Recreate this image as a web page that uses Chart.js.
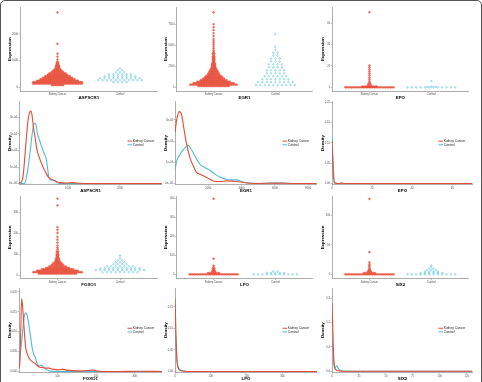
<!DOCTYPE html>
<html>
<head>
<meta charset="utf-8">
<script src="https://cdn.jsdelivr.net/npm/chart.js@4.4.0/dist/chart.umd.min.js"></script>
<style>
    body { margin: 0; background: #fff; }
    #moldura { position: absolute; left: 0; top: 0; width: 480px; height: 386px; border: 1px solid #555; border-radius: 5px; }
    canvas { position: absolute; }
</style>
</head>
<body>
<div id="moldura"></div>
<script>
const categorias = ['Kidney Cancer', 'Control'];
const cores = ['#E64B35', '#4DBBD5'];

// swarm levels: [expression, number of points on that level]
const aspscr1Kidney = [[74,8],[130,31],[185,31],[240,26],[296,22],[352,19],[407,16],[463,13],[518,11],[574,8],[629,6],[685,4],[740,3],[796,3],[851,2],[907,2],[962,1],[1036,1],[1147,1],[1258,1],[1628,1],[2812,1]];
const aspscr1Control = [[185,4],[259,11],[333,10],[407,8],[481,6],[555,3],[629,2],[703,1]];
const egr1Kidney = [[153,20],[329,30],[505,26],[681,21],[857,17],[1033,14],[1209,12],[1385,10],[1561,8],[1738,7],[1914,6],[2090,5],[2266,4],[2442,3],[2618,3],[2794,3],[2970,2],[3146,2],[3322,2],[3498,2],[3675,2],[3851,1],[4027,2],[4203,1],[4379,1],[4614,1],[4849,1],[5083,1],[5318,1],[5553,1],[5788,1],[6140,1],[6492,1],[6845,1],[7197,1],[7549,1],[8957,1]];
const egr1Control = [[270,10],[622,9],[974,7],[1327,6],[1679,5],[2031,5],[2383,4],[2735,4],[3088,3],[3440,3],[3792,2],[4144,2],[4496,1],[4849,1],[6375,1]];
const epoKidney = [[0,31],[0.7,10],[2.1,3],[3.9,2],[5.8,1],[7.6,1],[9.4,1],[11.3,1],[13.1,1],[14.9,1],[16.8,1],[18.6,1],[20.4,1],[70,1]];
const epoControl = [[0,12],[0.6,3],[5.8,1]];
const foxo1Kidney = [[7,24],[14,31],[21,26],[28,20],[35,15],[42,11],[50,8],[57,6],[64,4],[71,3],[78,3],[85,2],[92,2],[99,2],[106,1],[113,2],[123,1],[132,1],[142,1],[156,1],[170,1],[184,1],[203,1],[217,1],[231,1],[335,1],[368,1]];
const foxo1Control = [[14,9],[24,12],[33,10],[42,7],[52,4],[61,3],[71,2],[80,1],[94,1]];
const lpoKidney = [[0,31],[7,8],[15,3],[22,2],[30,2],[38,1],[46,1],[83,1],[399,1]];
const lpoControl = [[0,11],[7,5],[15,2]];
const six2Kidney = [[0,31],[2.2,8],[4.7,3],[7.2,2],[9.7,1],[12.2,1],[14.7,1],[17.2,1],[20.5,1],[37.7,1],[128,1]];
const six2Control = [[0,12],[2.2,6],[4.7,4],[7.2,3],[9.7,2],[12.2,1],[14.7,1]];

// density curves: [expression, density in units of the y tick step]
const aspscr1DensKidney = [[45,0],[77,0.06],[109,0.12],[141,0.56],[173,1.75],[205,2.95],[237,3.95],[269,4.35],[288,4.39],[308,4.15],[333,3.45],[365,2.85],[397,2.15],[429,1.75],[462,1.46],[494,1.2],[526,0.96],[558,0.76],[590,0.56],[622,0.4],[654,0.32],[718,0.22],[782,0.12],[846,0.06],[974,0.04],[1103,0.06],[1231,0.02],[1487,0],[2801,0]];
const aspscr1DensControl = [[45,0],[141,0],[173,0.06],[205,0.46],[237,1.06],[269,1.85],[301,2.75],[333,3.45],[359,3.65],[385,3.55],[410,3.05],[449,2.65],[494,2.25],[538,1.85],[577,1.55],[603,1.06],[622,0.56],[641,0.32],[686,0.22],[750,0.18],[795,0.06],[846,0],[2801,0]];
const egr1DensKidney = [[0,2.4],[100,3.0],[260,3.39],[400,3.24],[500,2.77],[700,1.84],[900,1.21],[1100,0.82],[1300,0.51],[1500,0.44],[1700,0.36],[1900,0.28],[2100,0.2],[2300,0.12],[2700,0.09],[3100,0.12],[3700,0.09],[4100,0.045],[4700,0],[6100,0.014],[7100,0],[8500,0]];
const egr1DensControl = [[0,0.6],[100,1.06],[300,1.37],[500,1.6],[700,1.76],[800,1.81],[900,1.71],[1100,1.45],[1300,1.14],[1500,0.9],[1800,0.75],[2100,0.62],[2400,0.44],[2700,0.31],[3100,0.19],[3400,0.17],[3700,0.17],[4000,0.09],[4300,0.03],[5100,0],[5900,0.014],[6500,0.014],[7100,0],[8500,0]];
const epoDensKidney = [[0,2.1],[0.5,0.8],[1.2,0.04],[3,0],[5,0.03],[6,0],[70,0]];
const epoDensControl = [[0,2.32],[0.5,1.2],[1.2,0.05],[3,0],[70,0]];
const foxo1DensKidney = [[0,0.15],[2,0.4],[4.4,2.0],[7,3.67],[10.4,3.03],[13.1,2.2],[17.4,1.2],[21.7,0.87],[26.1,0.67],[34.8,0.5],[43.5,0.37],[52.2,0.23],[60.9,0.2],[69.6,0.17],[78.3,0.17],[87,0.12],[104,0.08],[113,0.12],[122,0.07],[165,0.03],[191,0.07],[209,0.015],[252,0],[313,0.015],[370,0]];
const foxo1DensControl = [[0,0.28],[4.4,1.03],[8.7,1.87],[13.1,2.7],[17.4,2.95],[21.7,2.78],[26.1,2.28],[30.5,1.7],[34.8,1.12],[43.5,0.62],[47.9,0.37],[52.2,0.28],[56.6,0.32],[60.9,0.28],[69.6,0.12],[78.3,0.03],[104,0],[370,0]];
const lpoDensKidney = [[0,3.38],[2,2.2],[4,1.0],[6,0.4],[8,0.2],[12,0.08],[20,0.02],[30,0],[396,0]];
const lpoDensControl = [[0,2.03],[2,1.6],[4,0.9],[6,0.45],[8,0.25],[12,0.1],[20,0.04],[30,0.01],[40,0],[396,0]];
const six2DensKidney = [[0,2.79],[0.6,2.0],[1.2,1.0],[1.8,0.4],[2.5,0.15],[4,0.05],[6,0.02],[10,0],[130,0]];
const six2DensControl = [[0,1.38],[0.6,1.0],[1.2,0.6],[2,0.2],[3,0.12],[4,0.23],[5,0.2],[6,0.1],[8,0.04],[12,0],[130,0]];

// tick labels
const aspscr1ExprTicks = [0, 1000, 2000];
const egr1ExprTicks = [0, 2500, 5000, 7500];
const epoExprTicks = [0, 20, 40, 60];
const foxo1ExprTicks = [0, 100, 200, 300];
const lpoExprTicks = [0, 100, 200, 300, 400];
const six2ExprTicks = [0, 50, 100];
const aspscr1DensX = [1000, 2000];
const egr1DensX = [2000, 4000, 6000, 8000];
const epoDensX = [0, 20, 40, 60];
const foxo1DensX = [100, 200, 300];
const lpoDensX = [0, 100, 200, 300];
const six2DensX = [0, 25, 50, 75, 100, 125];
const aspscr1DensY = ['0e+00', '1e-04', '2e-04', '3e-04', '4e-04'];
const egr1DensY = ['0e+00', '1e-04', '2e-04', '3e-04'];
const epoDensY = ['0.00', '0.05', '0.10', '0.15', '0.20'];
const foxo1DensY = ['0.000', '0.005', '0.010', '0.015', '0.020'];
const lpoDensY = ['0.00', '0.05', '0.10', '0.15'];
const six2DensY = ['0.0', '0.1', '0.2', '0.3'];

Chart.defaults.font.family = '"Liberation Sans", Arial, sans-serif';
Chart.defaults.color = '#4d4d4d';

const colunas = [
    { left: 4, eixoSwarm: 20, eixoDens: 19, right: 162, tituloX: 10 },
    { left: 163, eixoSwarm: 176.5, eixoDens: 175, right: 317, tituloX: 166 },
    { left: 319, eixoSwarm: 332.3, eixoDens: 332, right: 473, tituloX: 322.3 }
];
const linhas = [
    { plotTop: 6, eixoY: 91, bottom: 100, tituloY: 97.3 },
    { plotTop: 101.7, eixoY: 184.3, bottom: 194, tituloY: 190.7 },
    { plotTop: 195, eixoY: 278.5, bottom: 287, tituloY: 284.3 },
    { plotTop: 288, eixoY: 372.3, bottom: 382, tituloY: 378.3 }
];

const legendaDentro = {
    id: 'legendaDentro',
    afterDatasetsDraw(chart, args, opts) {
        if (!opts.show) return;
        const ctx = chart.ctx;
        const area = chart.chartArea;
        const x = area.right - 34.5;
        const meio = (area.top + area.bottom) / 2;
        ctx.save();
        ctx.font = '3.3px "Liberation Sans", Arial, sans-serif';
        ctx.textBaseline = 'middle';
        chart.data.datasets.forEach((ds, i) => {
            const y = meio - 1.9 + i * 3.7;
            ctx.strokeStyle = ds.borderColor;
            ctx.lineWidth = 1;
            ctx.beginPath();
            ctx.moveTo(x, y);
            ctx.lineTo(x + 4.6, y);
            ctx.stroke();
            ctx.fillStyle = '#1a1a1a';
            ctx.fillText(ds.label, x + 5.3, y);
        });
        ctx.restore();
    }
};

function criarCanvas(col, lin) {
    const top = Math.floor(lin.plotTop) - 3;
    const canvas = document.createElement('canvas');
    canvas.width = col.right - col.left;
    canvas.height = lin.bottom - top;
    canvas.style.left = col.left + 'px';
    canvas.style.top = top + 'px';
    document.body.appendChild(canvas);
    return { canvas, top };
}

function montarEixos(p, col, lin, eixoX) {
    const fonteTitulo = { size: 4.4, weight: 'bold' };
    const grade = { drawOnChartArea: false, tickLength: 1.5, color: '#999', lineWidth: 0.6 };
    const borda = { color: '#999', width: 0.8 };
    return {
        x: {
            type: 'linear',
            min: p.xMin,
            max: p.xMax,
            afterBuildTicks: s => { s.ticks = p.xTicks.map(v => ({ value: v })); },
            afterFit: s => { s.height = lin.bottom - lin.eixoY; },
            ticks: { font: { size: 2.7 }, padding: 0.6, maxRotation: 0, autoSkip: false, callback: (v, i) => p.xLabels[i] },
            grid: grade,
            border: borda,
            title: { display: true, text: p.gene, font: fonteTitulo, color: '#000', padding: { top: 0, bottom: lin.bottom - lin.tituloY - 2.64 } }
        },
        y: {
            type: 'linear',
            min: p.yMin,
            max: p.yMax,
            afterBuildTicks: s => { s.ticks = p.yTicks.map(v => ({ value: v })); },
            afterFit: s => { s.width = eixoX - col.left; },
            ticks: { font: { size: 2.7 }, padding: 0.6, autoSkip: false, callback: (v, i) => p.yLabels[i] },
            grid: grade,
            border: borda,
            title: { display: true, text: p.yTitle, font: fonteTitulo, color: '#000', padding: { top: col.tituloX - col.left - 2.64, bottom: 0 } }
        }
    };
}

function montarSwarm(niveis, centro, passo) {
    const pontos = [];
    niveis.forEach(([valor, n]) => {
        for (let i = 0; i < n; i++) {
            pontos.push({ x: centro + (i - (n - 1) / 2) * passo, y: valor });
        }
    });
    return pontos;
}

function desenharSwarm(p) {
    const col = colunas[p.col];
    const lin = linhas[p.row];
    const { canvas, top } = criarCanvas(col, lin);
    p.xMin = 0.4;
    p.xMax = 2.6;
    p.xTicks = [1, 2];
    p.xLabels = categorias;
    p.yLabels = p.yTicks.map(v => String(v));
    p.yTitle = 'Expression';
    new Chart(canvas, {
        type: 'scatter',
        data: {
            datasets: [
                { label: categorias[0], data: montarSwarm(p.kidney, 1, 0.026), borderColor: cores[0], backgroundColor: 'rgba(230,75,53,0.75)', pointRadius: 0.9, pointBorderWidth: 0.5 },
                { label: categorias[1], data: montarSwarm(p.control, 2, 0.07), borderColor: cores[1], backgroundColor: 'rgba(255,255,255,0)', pointRadius: 0.8, pointBorderWidth: 0.5 }
            ]
        },
        options: {
            responsive: false,
            animation: false,
            devicePixelRatio: 1,
            events: [],
            layout: { padding: { top: lin.plotTop - top, left: 0, right: 0, bottom: 0 } },
            scales: montarEixos(p, col, lin, col.eixoSwarm),
            plugins: { legend: { display: false }, tooltip: { enabled: false } }
        }
    });
}

function desenharDensidade(p) {
    const col = colunas[p.col];
    const lin = linhas[p.row];
    const { canvas, top } = criarCanvas(col, lin);
    p.xLabels = p.xTicks.map(v => String(v));
    p.yMin = -0.04;
    p.yTicks = p.yLabels.map((l, i) => i);
    p.yTitle = 'Density';
    const curva = arr => arr.map(([x, y]) => ({ x, y }));
    new Chart(canvas, {
        type: 'line',
        data: {
            datasets: [
                { label: categorias[0], data: curva(p.kidney), borderColor: cores[0], borderWidth: 1.1, pointRadius: 0, fill: false, cubicInterpolationMode: 'monotone' },
                { label: categorias[1], data: curva(p.control), borderColor: cores[1], borderWidth: 1.1, pointRadius: 0, fill: false, cubicInterpolationMode: 'monotone' }
            ]
        },
        options: {
            responsive: false,
            animation: false,
            devicePixelRatio: 1,
            events: [],
            layout: { padding: { top: lin.plotTop - top, left: 0, right: 0, bottom: 0 } },
            scales: montarEixos(p, col, lin, col.eixoDens),
            plugins: { legend: { display: false }, tooltip: { enabled: false }, legendaDentro: { show: true } }
        },
        plugins: [legendaDentro]
    });
}

desenharSwarm({ gene: 'ASPSCR1', col: 0, row: 0, kidney: aspscr1Kidney, control: aspscr1Control, yTicks: aspscr1ExprTicks, yMin: -148, yMax: 2997 });
desenharSwarm({ gene: 'EGR1', col: 1, row: 0, kidney: egr1Kidney, control: egr1Control, yTicks: egr1ExprTicks, yMin: -434, yMax: 9545 });
desenharSwarm({ gene: 'EPO', col: 2, row: 0, kidney: epoKidney, control: epoControl, yTicks: epoExprTicks, yMin: -3.4, yMax: 74.5 });
desenharDensidade({ gene: 'ASPSCR1', col: 0, row: 1, kidney: aspscr1DensKidney, control: aspscr1DensControl, xTicks: aspscr1DensX, yLabels: aspscr1DensY, xMin: 58, xMax: 2808, yMax: 4.95 });
desenharDensidade({ gene: 'EGR1', col: 1, row: 1, kidney: egr1DensKidney, control: egr1DensControl, xTicks: egr1DensX, yLabels: egr1DensY, xMin: 0, xMax: 8529, yMax: 3.86 });
desenharDensidade({ gene: 'EPO', col: 2, row: 1, kidney: epoDensKidney, control: epoDensControl, xTicks: epoDensX, yLabels: epoDensY, xMin: 0, xMax: 70.4, yMax: 4.03 });
desenharSwarm({ gene: 'FOXO1', col: 0, row: 2, kidney: foxo1Kidney, control: foxo1Control, yTicks: foxo1ExprTicks, yMin: -16.5, yMax: 378 });
desenharSwarm({ gene: 'LPO', col: 1, row: 2, kidney: lpoKidney, control: lpoControl, yTicks: lpoExprTicks, yMin: -21.8, yMax: 411 });
desenharSwarm({ gene: 'SIX2', col: 2, row: 2, kidney: six2Kidney, control: six2Control, yTicks: six2ExprTicks, yMin: -7, yMax: 132 });
desenharDensidade({ gene: 'FOXO1', col: 0, row: 3, kidney: foxo1DensKidney, control: foxo1DensControl, xTicks: foxo1DensX, yLabels: foxo1DensY, xMin: 0, xMax: 371, yMax: 4.2 });
desenharDensidade({ gene: 'LPO', col: 1, row: 3, kidney: lpoDensKidney, control: lpoDensControl, xTicks: lpoDensX, yLabels: lpoDensY, xMin: 0, xMax: 396, yMax: 3.88 });
desenharDensidade({ gene: 'SIX2', col: 2, row: 3, kidney: six2DensKidney, control: six2DensControl, xTicks: six2DensX, yLabels: six2DensY, xMin: 0, xMax: 130.8, yMax: 3.41 });
</script>
</body>
</html>
